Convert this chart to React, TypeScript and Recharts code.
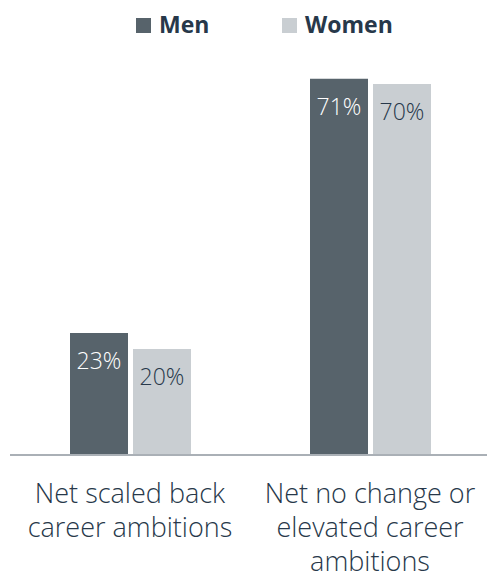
import { Bar, BarChart, LabelList, Legend, XAxis, YAxis } from 'recharts';

const categories = ['Net scaled back career ambitions', 'Net no change or elevated career ambitions'];
const categoryLines = [
  ['Net scaled back', 'career ambitions'],
  ['Net no change or', 'elevated career', 'ambitions'],
];
const men = [23, 71];
const women = [20, 70];

const data = categories.map((name, i) => ({
  name,
  men: men[i],
  women: women[i],
}));

const MEN = '#57636b';
const WOMEN = '#c9ced2';
const TEXT = '#27384a';
const FONT = '"Open Sans", sans-serif';

function CategoryTick({ x, y, payload, index }: any) {
  const lines = categoryLines[index ?? payload.index] ?? [payload.value];
  return (
    <text x={x} y={y} textAnchor='middle' fill={TEXT} fontFamily={FONT} fontSize={27} fontWeight={300}>
      {lines.map((l: string, i: number) => (
        <tspan key={i} x={x} dy={i === 0 ? 40 : 34}>
          {l}
        </tspan>
      ))}
    </text>
  );
}

function LegendBox() {
  const item = (color: string, label: string, width: number) => (
    <div style={{ display: 'flex', alignItems: 'center', width }}>
      <span style={{ width: 15, height: 15, background: color, marginRight: 8, marginTop: 2 }} />
      <span style={{ fontFamily: FONT, fontWeight: 700, fontSize: 23, color: TEXT }}>{label}</span>
    </div>
  );
  return (
    <div style={{ height: 40, display: 'flex', alignItems: 'center', paddingLeft: 136, paddingTop: 8, boxSizing: 'border-box' }}>
      {item(MEN, 'Men', 146)}
      {item(WOMEN, 'Women', 150)}
    </div>
  );
}

export default function App() {
  return (
    <div style={{ position: 'absolute', left: 0, top: 0, width: 487, height: 579, overflow: 'hidden', background: '#fff' }}>
      <BarChart
        width={490}
        height={579}
        data={data}
        margin={{ top: 0, right: 0, left: 10, bottom: 0 }}
        barSize={58}
        barGap={5}
      >
        <Legend verticalAlign='top' align='left' content={<LegendBox />} wrapperStyle={{ top: 0, left: 0, width: 490 }} />
        <XAxis
          dataKey='name'
          height={124}
          axisLine={{ stroke: '#aab0b6', strokeWidth: 2 }}
          tickLine={false}
          interval={0}
          tick={<CategoryTick />}
        />
        <YAxis hide domain={[0, 78.3]} />
        <Bar dataKey='men' fill={MEN} isAnimationActive={false}>
          <LabelList
            dataKey='men'
            position='insideTop'
            offset={20}
            formatter={(v: any) => `${v}%`}
            fill='#ffffff'
            fontFamily={FONT}
            fontSize={23}
            fontWeight={300}
          />
        </Bar>
        <Bar dataKey='women' fill={WOMEN} isAnimationActive={false}>
          <LabelList
            dataKey='women'
            position='insideTop'
            offset={20}
            formatter={(v: any) => `${v}%`}
            fill={TEXT}
            fontFamily={FONT}
            fontSize={23}
            fontWeight={300}
          />
        </Bar>
      </BarChart>
    </div>
  );
}
